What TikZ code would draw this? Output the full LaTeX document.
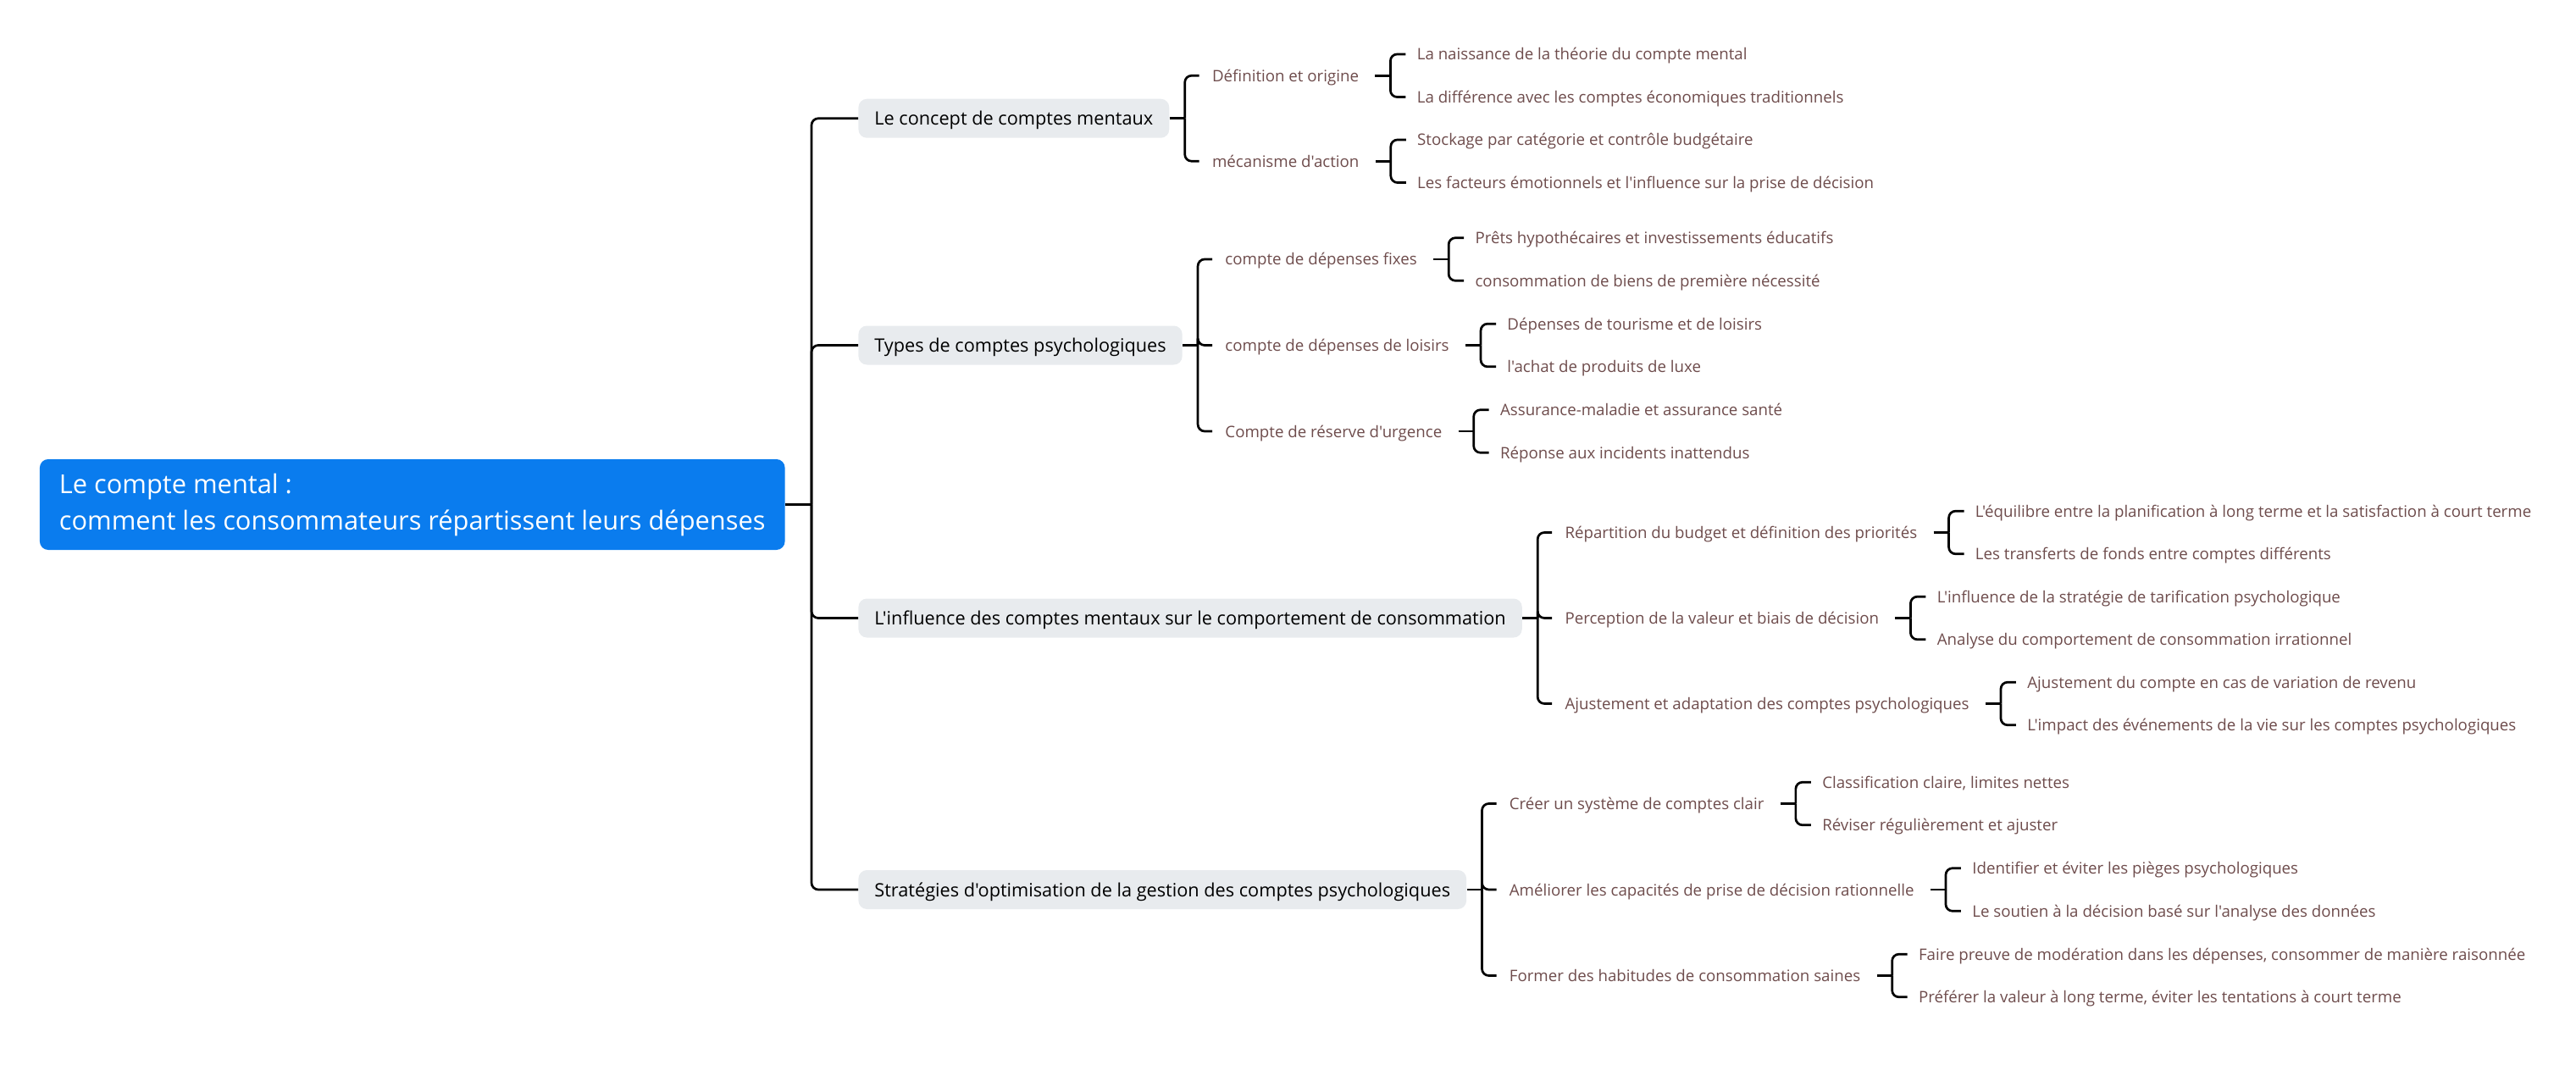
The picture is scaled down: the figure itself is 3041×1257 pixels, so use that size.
\documentclass[tikz,border=0pt]{standalone}
\usepackage{fontspec}
\setmainfont{Open Sans}[Ligatures=TeXOff]
\usepackage{tikz}
\usetikzlibrary{positioning, calc}

\definecolor{rootblue}{HTML}{0A7CEE}
\definecolor{topicgray}{HTML}{E8EBEE}
\definecolor{subbrown}{HTML}{6E4C4C}

\begin{document}
\begin{tikzpicture}[x=0.5pt, y=-0.5pt,
  conn/.style={line width=1.35pt, rounded corners=4pt},
  rootbox/.style={fill=rootblue, text=white, rounded corners=5pt, align=left,
    inner xsep=11.5pt, inner ysep=0pt, minimum height=53.5pt,
    font=\fontsize{15.4}{21.5}\selectfont},
  topicbox/.style={fill=topicgray, text=black, rounded corners=5pt,
    inner xsep=9.5pt, inner ysep=0pt, minimum height=23pt,
    text height=9pt, text depth=1pt, font=\fontsize{10.85}{13}\selectfont},
  subtext/.style={text=subbrown, inner sep=0pt, text height=8pt, text depth=1pt,
    font=\fontsize{9.35}{11}\selectfont}]
  \useasboundingbox (0,0) rectangle (3041,1257);

  % Central topic
  \node[rootbox, anchor=west] (root) at (46.5,595.5)
    {Le compte mental :\\comment les consommateurs répartissent leurs dépenses};
  \coordinate (trunk) at (958,595.5);
  \draw[conn] (root.east) -- (trunk);

  % Main branches
  \node[topicbox, anchor=west] (concept) at (1013,139.75) {Le concept de comptes mentaux};
  \node[topicbox, anchor=west] (types) at (1013,407.5) {Types de comptes psychologiques};
  \node[topicbox, anchor=west] (influence) at (1013,729.5) {L'influence des comptes mentaux sur le comportement de consommation};
  \node[topicbox, anchor=west] (strat) at (1013,1050) {Stratégies d'optimisation de la gestion des comptes psychologiques};
  \foreach \t in {concept,types,influence,strat}
    \draw[conn] (trunk) |- (\t.west);

  % Sub-topics
  \node[subtext, anchor=west] (c1) at ($(concept.east)+(50,-50.5)$) {Définition et origine};
  \node[subtext, anchor=west] (c2) at ($(concept.east)+(50,50.5)$) {mécanisme d'action};
  \node[subtext, anchor=west] (t1) at ($(types.east)+(50,-101.5)$) {compte de dépenses fixes};
  \node[subtext, anchor=west] (t2) at ($(types.east)+(50,0)$) {compte de dépenses de loisirs};
  \node[subtext, anchor=west] (t3) at ($(types.east)+(50,101.5)$) {Compte de réserve d'urgence};
  \node[subtext, anchor=west] (i1) at ($(influence.east)+(50,-101)$) {Répartition du budget et définition des priorités};
  \node[subtext, anchor=west] (i2) at ($(influence.east)+(50,0)$) {Perception de la valeur et biais de décision};
  \node[subtext, anchor=west] (i3) at ($(influence.east)+(50,101)$) {Ajustement et adaptation des comptes psychologiques};
  \node[subtext, anchor=west] (s1) at ($(strat.east)+(50,-101.5)$) {Créer un système de comptes clair};
  \node[subtext, anchor=west] (s2) at ($(strat.east)+(50,0)$) {Améliorer les capacités de prise de décision rationnelle};
  \node[subtext, anchor=west] (s3) at ($(strat.east)+(50,101.5)$) {Former des habitudes de consommation saines};

  \foreach \t/\kids in {concept/{c1,c2}, types/{t1,t2,t3}, influence/{i1,i2,i3}, strat/{s1,s2,s3}} {
    \coordinate (\t-v) at ($(\t.east)+(18,0)$);
    \draw[conn] (\t.east) -- (\t-v);
    \foreach \k in \kids
      \draw[conn] (\t-v) |- ($(\k.west)+(-15,0)$);
  }

  % Leaves, two per sub-topic
  \foreach \p/\ta/\tb in {
    c1/{La naissance de la théorie du compte mental}/{La différence avec les comptes économiques traditionnels},
    c2/{Stockage par catégorie et contrôle budgétaire}/{Les facteurs émotionnels et l'influence sur la prise de décision},
    t1/{Prêts hypothécaires et investissements éducatifs}/{consommation de biens de première nécessité},
    t2/{Dépenses de tourisme et de loisirs}/{l'achat de produits de luxe},
    t3/{Assurance-maladie et assurance santé}/{Réponse aux incidents inattendus},
    i1/{L'équilibre entre la planification à long terme et la satisfaction à court terme}/{Les transferts de fonds entre comptes différents},
    i2/{L'influence de la stratégie de tarification psychologique}/{Analyse du comportement de consommation irrationnel},
    i3/{Ajustement du compte en cas de variation de revenu}/{L'impact des événements de la vie sur les comptes psychologiques},
    s1/{Classification claire, limites nettes}/{Réviser régulièrement et ajuster},
    s2/{Identifier et éviter les pièges psychologiques}/{Le soutien à la décision basé sur l'analyse des données},
    s3/{Faire preuve de modération dans les dépenses, consommer de manière raisonnée}/{Préférer la valeur à long terme, éviter les tentations à court terme}} {
    \coordinate (\p-s) at ($(\p.east)+(19,0)$);
    \coordinate (\p-v) at ($(\p-s)+(18,0)$);
    \node[subtext, anchor=west] (\p-a) at ($(\p-v)+(31,-25.3)$) {\ta};
    \node[subtext, anchor=west] (\p-b) at ($(\p-v)+(31,25.3)$) {\tb};
    \draw[conn] (\p-s) -- (\p-v);
    \draw[conn] (\p-v) |- ($(\p-a.west)+(-13,0)$);
    \draw[conn] (\p-v) |- ($(\p-b.west)+(-13,0)$);
  }
\end{tikzpicture}
\end{document}
